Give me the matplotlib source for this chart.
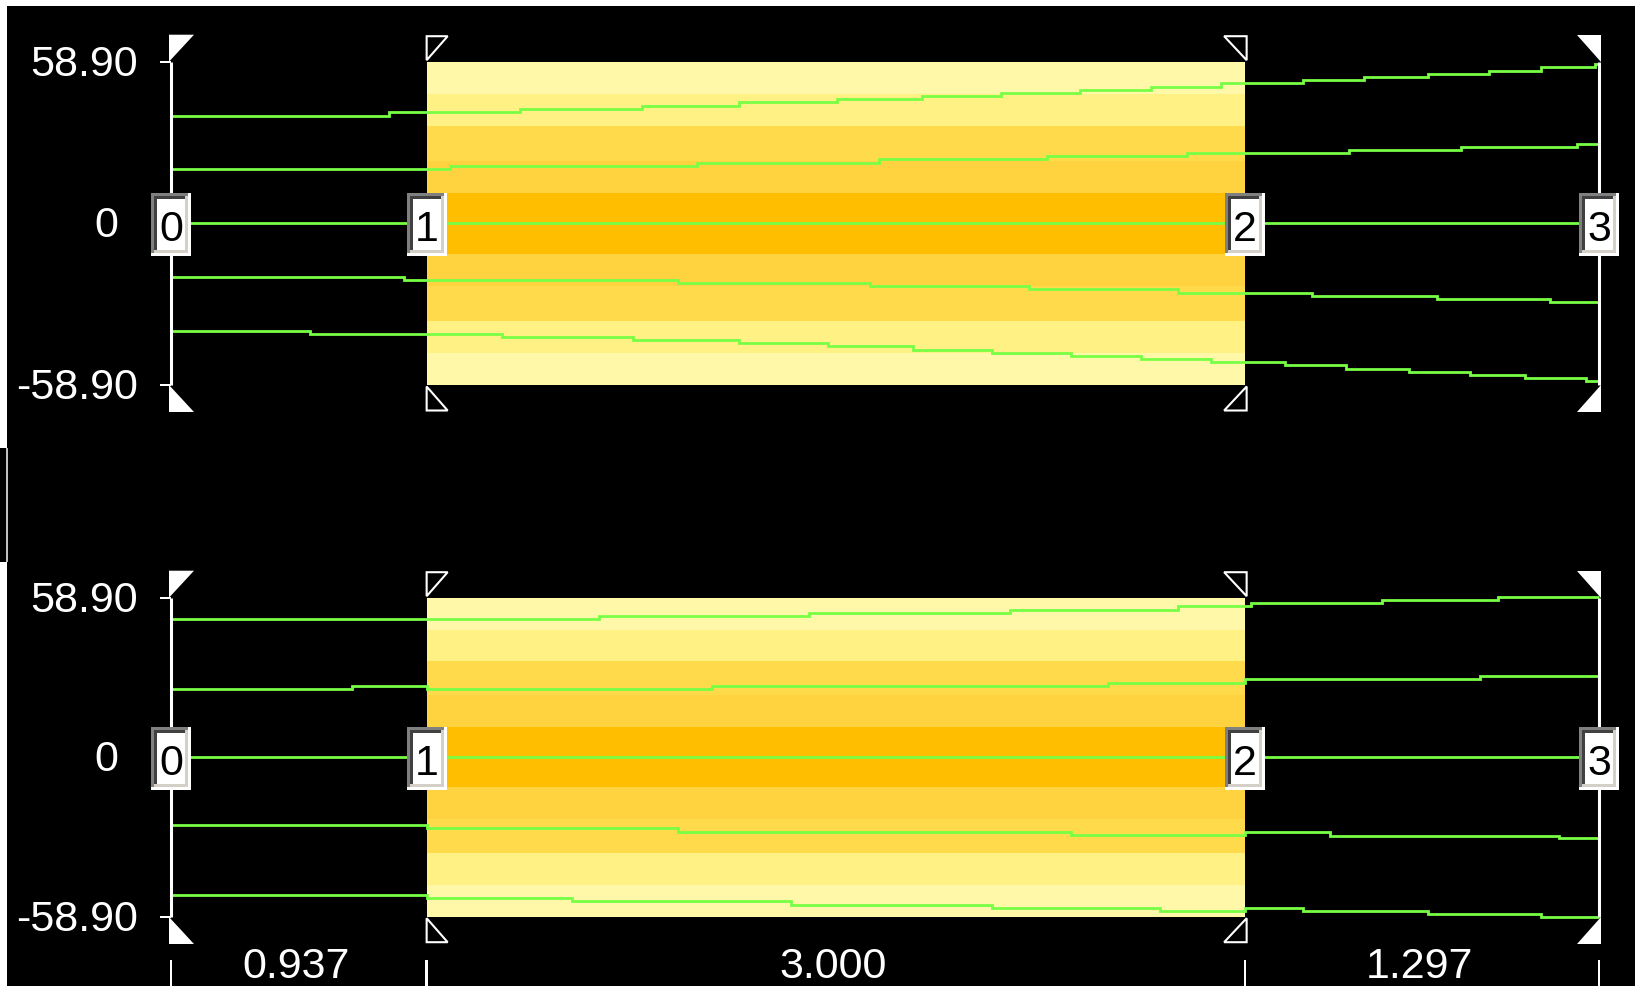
import matplotlib
matplotlib.use('Agg')
import matplotlib.pyplot as plt
import numpy as np
from matplotlib.patches import Polygon
from matplotlib.transforms import Affine2D, ScaledTranslation

# ---------------- data ----------------
segment_widths = [0.937, 3.000, 1.297]
marker_labels = ['0', '1', '2', '3']
y_limit = 58.90
y_tick_values = [58.90, 0.0, -58.90]
y_tick_labels = ['58.90', '0', '-58.90']

# band upper edges (symmetric about 0), centre band first
band_edges = [11.0, 22.9, 35.4, 47.1, 58.9]
band_colors = ['#FFBE00', '#FFD33F', '#FFDB4B', '#FFF184', '#FFF8A8']

# top panel lines (x at steps, y values)
top_l1_x = [0, 0.799, 1.279, 1.727, 2.082, 2.441, 2.753, 3.043, 3.332, 3.592, 3.849, 4.150, 4.373, 4.608, 4.831, 5.022, 5.220]
top_l1_y = [39.27, 40.47, 41.71, 42.91, 44.12, 45.17, 46.27, 47.36, 48.56, 49.76, 51.00, 52.09, 53.19, 54.28, 55.59, 56.83, 57.92]
top_l2_x = [0, 1.023, 1.928, 2.595, 3.211, 3.724, 4.318, 4.729, 5.154]
top_l2_y = [19.67, 20.77, 21.97, 23.32, 24.41, 25.50, 26.59, 27.69, 28.89]
top_l3_x = [0]
top_l3_y = [0.0]
top_l4_x = [0, 0.854, 1.858, 2.562, 3.145, 3.691, 4.183, 4.641, 5.055]
top_l4_y = [-19.67, -20.77, -21.86, -22.95, -24.04, -25.28, -26.59, -27.69, -28.78]
top_l5_x = [0, 0.510, 1.213, 1.694, 2.082, 2.409, 2.720, 3.010, 3.299, 3.556, 3.812, 4.084, 4.307, 4.538, 4.762, 4.963, 5.187]
top_l5_y = [-39.23, -40.44, -41.53, -42.62, -43.72, -44.81, -46.05, -47.36, -48.45, -49.54, -50.64, -51.73, -52.97, -54.17, -55.37, -56.47, -57.56]

# bottom panel lines
bot_l1_x = [0, 1.569, 2.339, 3.075, 3.691, 3.959, 4.439, 4.864]
bot_l1_y = [50.92, 52.03, 53.14, 54.36, 55.72, 56.83, 57.94, 59.05]
bot_l2_x = [0, 0.663, 0.937, 1.983, 3.435, 3.937, 4.798]
bot_l2_y = [25.07, 26.18, 25.07, 26.18, 27.40, 28.77, 29.87]
bot_l3_x = [0]
bot_l3_y = [0.0]
bot_l4_x = [0, 0.937, 1.858, 3.299, 3.937, 4.249, 5.088]
bot_l4_y = [-25.15, -26.26, -27.51, -28.84, -27.62, -28.99, -29.95]
bot_l5_x = [0, 0.937, 1.470, 2.273, 3.010, 3.625, 3.937, 4.150, 4.608, 5.022]
bot_l5_y = [-51.00, -52.10, -53.21, -54.47, -55.80, -56.91, -55.80, -56.91, -58.01, -59.12]

# ---------------- style ----------------
plt.rcParams['font.family'] = ['Liberation Sans', 'DejaVu Sans']
W, H, DPI = 1635, 986, 100
GREEN = '#78FF45'
FS = 31

fig = plt.figure(figsize=(W / DPI, H / DPI), dpi=DPI, facecolor='black')

# white screenshot margins
def fig_rect(x0, y0, w, h, color):
    fig.add_artist(plt.Rectangle((x0 / W, 1 - (y0 + h) / H), w / W, h / H,
                                 transform=fig.transFigure, color=color, lw=0, zorder=0))

fig_rect(0, 0, W, 6, 'white')
fig_rect(0, 0, 7, 448, 'white')
fig_rect(0, 562, 7, H - 562, 'white')
fig_rect(6, 448, 1.5, 114, '#C0C0C0')

edges = np.concatenate([[0.0], np.cumsum(segment_widths)])


def px_poly(ax, x, y, verts, **kw):
    tr = Affine2D().scale(1, -1) + ScaledTranslation(x, y, ax.transData)
    ax.add_patch(Polygon(verts, closed=True, transform=tr, clip_on=False, **kw))


def px_rect(ax, x, y, x0, x1, y0, y1, color, z):
    px_poly(ax, x, y, [(x0, y0), (x1, y0), (x1, y1), (x0, y1)], facecolor=color,
            edgecolor='none', lw=0, zorder=z)


def panel(top_px, bot_px, lines, bottom_labels=False):
    ax = fig.add_axes([171 / W, 1 - bot_px / H, 1428 / W, (bot_px - top_px) / H])
    ax.set_xlim(edges[0], edges[-1])
    ax.set_ylim(-y_limit, y_limit)
    ax.axis('off')
    ax.patch.set_alpha(0)

    # yellow bands between marker 1 and 2
    lo_prev = 0.0
    for e, c in zip(band_edges, band_colors):
        ax.fill_between([edges[1], edges[2]], lo_prev, e, color=c, lw=0, zorder=1)
        ax.fill_between([edges[1], edges[2]], -e, -lo_prev, color=c, lw=0, zorder=1)
        lo_prev = e

    # green lines
    for xs, ys in lines:
        xx = list(xs) + [edges[-1]]
        yy = list(ys) + [ys[-1]]
        ax.plot(xx, yy, drawstyle='steps-post', color=GREEN, lw=2.0,
                solid_capstyle='butt', solid_joinstyle='miter', zorder=3, clip_on=False)

    # axis lines at first and last marker
    for xm in (edges[0], edges[-1]):
        ax.plot([xm, xm], [-y_limit, y_limit], color='white', lw=2.2, zorder=4,
                clip_on=False, solid_capstyle='butt')

    # tick marks on the left axis
    for yv in (y_limit, -y_limit):
        px_rect(ax, edges[0], yv, -11, 0, -1.2, 1.2, 'white', 4)

    # y labels
    for yv, lab in zip(y_tick_values, y_tick_labels):
        dx = -53 if yv == 0 else -33
        ax.annotate(lab, (edges[0], yv), xytext=(dx, -14), textcoords='offset pixels',
                    ha='right', va='baseline', color='white', fontsize=FS,
                    annotation_clip=False)

    # corner triangles
    px_poly(ax, edges[0], y_limit, [(-2, -27), (23, -27), (-2, 0)], facecolor='white',
            edgecolor='none', zorder=5)
    px_poly(ax, edges[0], -y_limit, [(-2, 0), (-2, 27), (23, 27)], facecolor='white',
            edgecolor='none', zorder=5)
    px_poly(ax, edges[3], y_limit, [(-22, -27), (2, -27), (2, 0)], facecolor='white',
            edgecolor='none', zorder=5)
    px_poly(ax, edges[3], -y_limit, [(2, 0), (2, 27), (-22, 27)], facecolor='white',
            edgecolor='none', zorder=5)
    px_poly(ax, edges[1], y_limit, [(0, -25.5), (21, -25.5), (0, -1.5)], facecolor='none',
            edgecolor='white', lw=1.5, zorder=5)
    px_poly(ax, edges[1], -y_limit, [(0, 1.5), (0, 25.5), (21, 25.5)], facecolor='none',
            edgecolor='white', lw=1.5, zorder=5)
    px_poly(ax, edges[2], y_limit, [(-21, -25.5), (1.5, -25.5), (1.5, -1.5)], facecolor='none',
            edgecolor='white', lw=1.5, zorder=5)
    px_poly(ax, edges[2], -y_limit, [(1.5, 1.5), (1.5, 25.5), (-21, 25.5)], facecolor='none',
            edgecolor='white', lw=1.5, zorder=5)

    # marker boxes
    for xm, lab in zip(edges, marker_labels):
        px_rect(ax, xm, 0, -20, 20, -30, 33, '#FFFFFF', 6)
        px_rect(ax, xm, 0, -20, 17, -30, 30, '#808080', 6.1)
        px_rect(ax, xm, 0, -17, 17, -27, 30, '#D4D0C8', 6.2)
        px_rect(ax, xm, 0, -17, 14, -27, 27, '#404040', 6.3)
        px_rect(ax, xm, 0, -14, 14, -24, 27, '#FFFFFF', 6.4)
        ax.annotate(lab, (xm, 0), xytext=(0, -17.5), textcoords='offset pixels',
                    ha='center', va='baseline', color='black', fontsize=FS,
                    annotation_clip=False, zorder=7)

    if bottom_labels:
        for i, w in enumerate(segment_widths):
            ax.annotate(f'{w:.3f}', ((edges[i] + edges[i + 1]) / 2, -y_limit),
                        xytext=(-3, -61), textcoords='offset pixels', ha='center',
                        va='baseline', color='white', fontsize=FS, annotation_clip=False)
        for xm in edges:
            px_rect(ax, xm, -y_limit, -1.2, 1.2, 43, 75, 'white', 4)
    return ax


top_lines = [(top_l1_x, top_l1_y), (top_l2_x, top_l2_y), (top_l3_x, top_l3_y),
             (top_l4_x, top_l4_y), (top_l5_x, top_l5_y)]
bot_lines = [(bot_l1_x, bot_l1_y), (bot_l2_x, bot_l2_y), (bot_l3_x, bot_l3_y),
             (bot_l4_x, bot_l4_y), (bot_l5_x, bot_l5_y)]

panel(61.7, 385.0, top_lines)
panel(597.7, 916.7, bot_lines, bottom_labels=True)

fig.savefig('out.png', dpi=DPI, facecolor='black')
